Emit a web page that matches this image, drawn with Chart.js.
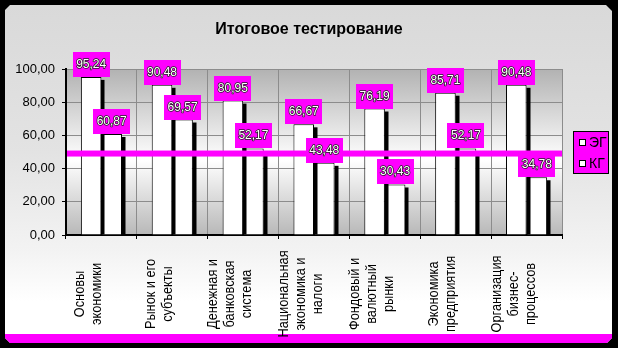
<!DOCTYPE html>
<html>
<head>
<meta charset="utf-8">
<script src="https://cdn.jsdelivr.net/npm/chart.js@4.4.0/dist/chart.umd.min.js"></script>
<style>
  html, body { margin: 0; padding: 0; background: #000; }
  canvas { display: block; }
</style>
</head>
<body>
<canvas id="chart" width="618" height="348"></canvas>
<script>
let categories = [
  ['Основы', 'экономики'],
  ['Рынок и его', 'субъекты'],
  ['Денежная и', 'банковская', 'система'],
  ['Национальная', 'экономика и', 'налоги'],
  ['Фондовый и', 'валютный', 'рынки'],
  ['Экономика', 'предприятия'],
  ['Организация', 'бизнес-', 'процессов']
];
let eg_values = [95.24, 90.48, 80.95, 66.67, 76.19, 85.71, 90.48];
let kg_values = [60.87, 69.57, 52.17, 43.48, 30.43, 52.17, 34.78];
let series_names = ['ЭГ', 'КГ'];
let y_ticks = [0, 20, 40, 60, 80, 100];
let kg_mean = 49.07;

let title_text = 'Итоговое тестирование';
let magenta = '#ff00ff';
let font_family = '"Liberation Sans", Arial, sans-serif';

function fmt(v) {
  return v.toFixed(2).replace('.', ',');
}

// black page, grey panel with cut corners, magenta strip at the bottom
let panel_plugin = {
  id: 'panel',
  beforeDraw(chart) {
    let ctx = chart.ctx;
    let a = chart.chartArea;
    ctx.save();
    ctx.fillStyle = '#000';
    ctx.fillRect(0, 0, chart.width, chart.height);

    ctx.beginPath();
    ctx.moveTo(10, 5);
    ctx.lineTo(606, 5);
    ctx.lineTo(612, 11);
    ctx.lineTo(612, 338);
    ctx.lineTo(607, 343);
    ctx.lineTo(10, 343);
    ctx.lineTo(5, 338);
    ctx.lineTo(5, 10);
    ctx.closePath();
    let g = ctx.createLinearGradient(0, 5, 0, 334);
    g.addColorStop(0, '#d9d9d9');
    g.addColorStop(0.45, '#e3e3e3');
    g.addColorStop(0.75, '#f3f3f3');
    g.addColorStop(0.9, '#ffffff');
    g.addColorStop(1, '#ffffff');
    ctx.fillStyle = g;
    ctx.fill();
    ctx.clip();
    ctx.fillStyle = magenta;
    ctx.fillRect(0, 334, chart.width, 10);
    ctx.restore();

    // plot area shading
    ctx.save();
    let pg = ctx.createLinearGradient(0, a.top, 0, a.bottom);
    pg.addColorStop(0, '#b2b2b2');
    pg.addColorStop(0.55, '#ffffff');
    pg.addColorStop(1, '#b8b8b8');
    ctx.fillStyle = pg;
    ctx.fillRect(a.left, a.top, a.right - a.left, a.bottom - a.top);
    ctx.restore();

    // title
    ctx.save();
    ctx.fillStyle = '#000';
    ctx.font = 'bold 16px ' + font_family;
    ctx.textAlign = 'center';
    ctx.textBaseline = 'alphabetic';
    ctx.fillText(title_text, 309, 34);
    ctx.restore();
  }
};

// hard black shadow on the right of each bar; drawn per dataset so that
// the first series' shadow lands on top of the second series
let shadow_plugin = {
  id: 'barShadow',
  beforeDatasetDraw(chart, args) {
    let ctx = chart.ctx;
    let a = chart.chartArea;
    ctx.save();
    ctx.beginPath();
    ctx.rect(a.left, a.top, a.right - a.left, a.bottom - a.top);
    ctx.clip();
    ctx.fillStyle = '#000';
    args.meta.data.forEach(bar => {
      let p = bar.getProps(['x', 'y', 'base', 'width'], true);
      let right = Math.round(p.x + p.width / 2);
      ctx.fillRect(right - 0.5, p.y + 3, 4, p.base - p.y - 3);
    });
    ctx.restore();
  },
  afterDatasetsDraw(chart) {
    let ctx = chart.ctx;
    let a = chart.chartArea;
    let y = chart.scales.y.getPixelForValue(kg_mean);
    ctx.save();
    ctx.fillStyle = magenta;
    ctx.fillRect(a.left + 1, y - 3, a.right - a.left - 1, 6);
    ctx.restore();

    // value boxes on top of the bars
    ctx.save();
    ctx.font = '12px ' + font_family;
    ctx.textAlign = 'center';
    ctx.textBaseline = 'middle';
    ctx.lineJoin = 'round';
    chart.data.datasets.forEach((ds, di) => {
      let meta = chart.getDatasetMeta(di);
      meta.data.forEach((bar, i) => {
        let txt = fmt(ds.data[i]);
        let w = Math.round(ctx.measureText(txt).width) + 7;
        let h = 25;
        let x = Math.round(bar.x - w / 2);
        let y0 = Math.round(bar.y) - h;
        ctx.fillStyle = magenta;
        ctx.fillRect(x, y0, w, h);
        ctx.strokeStyle = '#222';
        ctx.lineWidth = 1.5;
        ctx.strokeText(txt, bar.x, y0 + h / 2 + 0.5);
        ctx.fillStyle = '#fff';
        ctx.fillText(txt, bar.x, y0 + h / 2 + 0.5);
      });
    });
    ctx.restore();
  }
};

// rotated category names (narrowed a bit along the text) and the legend box
let labels_plugin = {
  id: 'sideLabels',
  afterDraw(chart) {
    let ctx = chart.ctx;
    let xs = chart.scales.x;
    ctx.save();
    ctx.fillStyle = '#000';
    ctx.font = '15px ' + font_family;
    ctx.textAlign = 'center';
    ctx.textBaseline = 'middle';
    categories.forEach((lines, i) => {
      let cx = xs.getPixelForValue(i) - 13;
      lines.forEach((line, k) => {
        let lx = cx + (k - (lines.length - 1) / 2) * 17;
        ctx.save();
        ctx.translate(lx, 294);
        ctx.rotate(-Math.PI / 2);
        ctx.scale(0.85, 1);
        ctx.fillText(line, 0, 0);
        ctx.restore();
      });
    });
    ctx.restore();

    // legend
    ctx.save();
    ctx.fillStyle = magenta;
    ctx.fillRect(573, 131, 36, 43);
    ctx.strokeStyle = '#000';
    ctx.lineWidth = 1;
    ctx.strokeRect(573.5, 131.5, 35, 42);
    ctx.font = '14px ' + font_family;
    ctx.textAlign = 'left';
    ctx.textBaseline = 'alphabetic';
    chart.data.datasets.forEach((ds, di) => {
      let y = 139 + di * 21;
      ctx.fillStyle = '#fff';
      ctx.fillRect(579, y, 6, 6);
      ctx.strokeRect(579.5, y + 0.5, 6, 6);
      ctx.fillStyle = '#000';
      ctx.fillText(ds.label, 589, y + 8);
    });
    ctx.restore();
  }
};

let ctx_chart = document.getElementById('chart');

let results_chart = new Chart(ctx_chart, {
  type: 'bar',
  data: {
    labels: categories,
    datasets: [
      {
        label: series_names[0],
        data: eg_values,
        backgroundColor: '#ffffff',
        borderColor: '#000000',
        borderWidth: 1
      },
      {
        label: series_names[1],
        data: kg_values,
        backgroundColor: '#ffffff',
        borderColor: '#000000',
        borderWidth: 1
      }
    ]
  },
  options: {
    responsive: false,
    animation: false,
    devicePixelRatio: 1,
    layout: { padding: { top: 69, right: 56, left: 0, bottom: 0 } },
    datasets: {
      bar: { categoryPercentage: 0.58, barPercentage: 1.0 }
    },
    plugins: {
      legend: { display: false },
      title: { display: false },
      tooltip: { enabled: false }
    },
    scales: {
      x: {
        offset: true,
        grid: { offset: true, color: '#8c8c8c', tickColor: '#000', tickLength: 4, lineWidth: 1 },
        border: { color: '#000', width: 2 },
        ticks: { display: false },
        afterFit(scale) { scale.height = 348 - 235; }
      },
      y: {
        min: 0,
        max: 100,
        afterBuildTicks(scale) { scale.ticks = y_ticks.map(v => ({ value: v })); },
        ticks: {
          padding: 7,
          color: '#000',
          font: { family: font_family, size: 13 },
          callback: v => fmt(v)
        },
        grid: { color: '#8c8c8c', tickColor: '#000', tickLength: 4, lineWidth: 1 },
        border: { color: '#000', width: 2 },
        afterFit(scale) { scale.width = 66; }
      }
    }
  },
  plugins: [panel_plugin, shadow_plugin, labels_plugin]
});
</script>
</body>
</html>
